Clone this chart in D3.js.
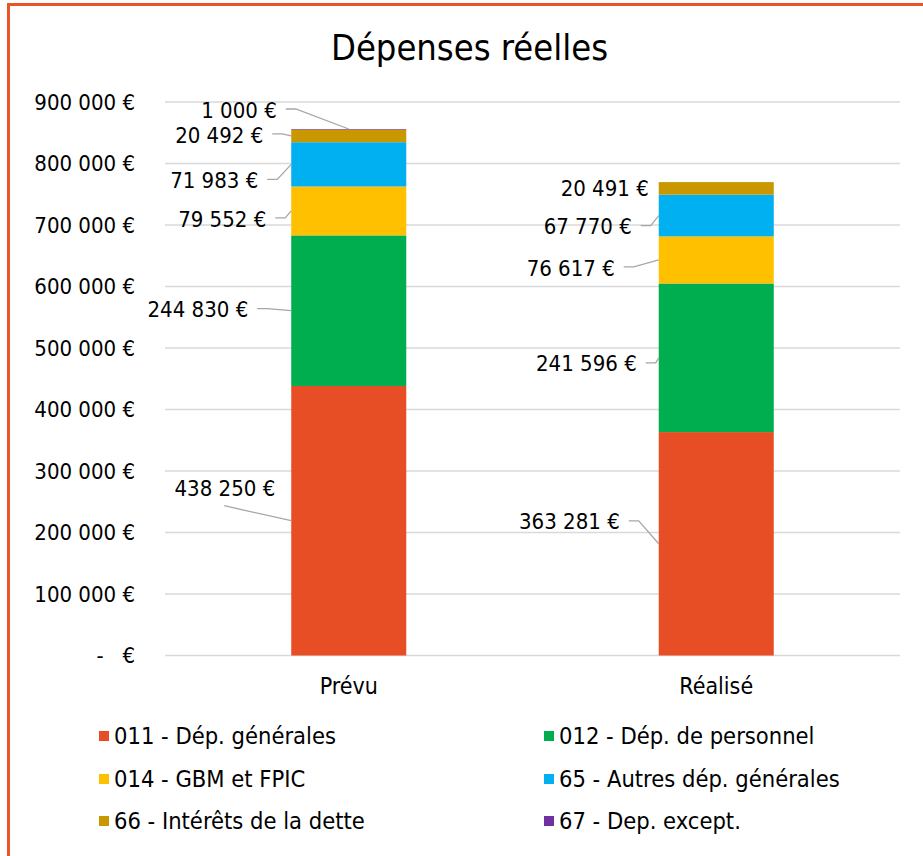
<!DOCTYPE html>
<html>
<head>
<meta charset="utf-8">
<script src="https://cdn.jsdelivr.net/npm/d3@7"></script>
<style>
  body { margin: 0; background: #fff; }
  svg { display: block; font-family: "DejaVu Sans Condensed", "DejaVu Sans", sans-serif; font-stretch: condensed; }
  .grid line { stroke: #d9d9d9; stroke-width: 1.5; }
  .leader { fill: none; stroke: #a6a6a6; stroke-width: 1.3; }
</style>
</head>
<body>
<svg width="923" height="856"></svg>
<script>
const categories = ["Prévu", "Réalisé"];
const seriesNames = ["011 - Dép. générales", "012 - Dép. de personnel", "014 - GBM et FPIC",
  "65 - Autres dép. générales", "66 - Intérêts de la dette", "67 - Dep. except."];
const seriesColors = ["#e84e25", "#00ad4f", "#ffc000", "#00b0f0", "#c99700", "#7030a0"];
const prevu = [438250, 244830, 79552, 71983, 20492, 1000];
const realise = [363281, 241596, 76617, 67770, 20491, 0];
const yTicks = [0, 100000, 200000, 300000, 400000, 500000, 600000, 700000, 800000, 900000];

// label placement (Excel callouts were moved by hand): text end offset from anchor, leader mode
const labelLayout = [
  [[-16, -32, "below"], [-43, -1], [-25, 8], [-33, 16], [-28, -1], [-72, -19, "top"]],
  [[-39, -22], [-22, 6], [-44, 8], [-27, 11], [-10, 0], null]
];

function drawChart() {
  let svg = d3.select("svg"),
    width = +svg.attr("width"),
    height = +svg.attr("height");

  svg.append("rect").attr("width", width).attr("height", height).attr("fill", "#fff");
  svg.append("rect")
    .attr("x", 8.5).attr("y", 4.5)
    .attr("width", 1000).attr("height", 1000)
    .attr("fill", "none").attr("stroke", "#e9552b").attr("stroke-width", 3);

  let plot = { left: 165, right: 900, top: 102, bottom: 655.5 };

  let x = d3.scaleBand().domain(categories)
    .range([plot.left, plot.right])
    .paddingInner(0.687).paddingOuter(0.3435);
  let y = d3.scaleLinear().domain([0, 900000]).range([plot.bottom, plot.top]);

  let fr = d3.formatLocale({ decimal: ",", thousands: " ", grouping: [3], currency: ["", " €"] });
  let fmt = v => v === 0 ? "-   €" : fr.format(",")(v) + " €";

  svg.append("text")
    .attr("x", 469.5).attr("y", 60)
    .attr("text-anchor", "middle")
    .style("font-size", "36px")
    .attr("fill", "#000")
    .text("Dépenses réelles");

  // gridlines
  svg.append("g").attr("class", "grid")
    .selectAll("line").data(yTicks).enter().append("line")
    .attr("x1", plot.left).attr("x2", plot.right)
    .attr("y1", d => y(d)).attr("y2", d => y(d));

  // y axis labels
  svg.append("g").selectAll("text").data(yTicks).enter().append("text")
    .attr("x", 135).attr("y", d => y(d))
    .attr("dy", "0.35em")
    .attr("text-anchor", "end")
    .style("font-size", "22px")
    .style("white-space", "pre")
    .attr("fill", "#000")
    .text(fmt);

  // stacked data
  let rows = categories.map((c, i) => {
    let obj = { cat: c };
    let vals = i === 0 ? prevu : realise;
    seriesNames.forEach((s, j) => obj[s] = vals[j]);
    return obj;
  });
  let stacked = d3.stack().keys(seriesNames)(rows);

  let layer = svg.append("g").selectAll("g").data(stacked).enter().append("g")
    .attr("fill", (d, i) => seriesColors[i]);
  layer.selectAll("rect").data(d => d).enter().append("rect")
    .attr("x", d => x(d.data.cat))
    .attr("width", x.bandwidth())
    .attr("y", d => y(d[1]))
    .attr("height", d => y(d[0]) - y(d[1]));

  // data labels with leader lines
  let lab = svg.append("g");
  stacked.forEach((s, j) => {
    s.forEach((d, i) => {
      let lay = labelLayout[i][j];
      let v = d[1] - d[0];
      if (!lay || v === 0) return;
      let ax, ay;
      if (lay[2] === "top") {
        ax = x(d.data.cat) + x.bandwidth() / 2;
        ay = y(d[1]);
      } else {
        ax = x(d.data.cat);
        ay = y((d[0] + d[1]) / 2);
      }
      let tx = ax + lay[0], ty = ay + lay[1];
      lab.append("text")
        .attr("x", tx).attr("y", ty)
        .attr("dy", "0.35em")
        .attr("text-anchor", "end")
        .style("font-size", "22px")
        .attr("fill", "#000")
        .text(fmt(v));
      let pts;
      if (lay[2] === "below") {
        pts = [[tx - 51, ty + 17], [ax, ay]];
      } else if (tx < ax - 12) {
        pts = [[tx + 9, ty - 1], [tx + 19, ty - 1], [ax, ay]];
        if (pts[1][0] > ax) pts.splice(1, 1);
      } else {
        pts = null;
      }
      if (pts) {
        lab.append("path").attr("class", "leader").attr("d", d3.line()(pts));
      }
    });
  });

  // x axis labels
  svg.append("g").selectAll("text").data(categories).enter().append("text")
    .attr("x", d => x(d) + x.bandwidth() / 2)
    .attr("y", 686)
    .attr("dy", "0.35em")
    .attr("text-anchor", "middle")
    .style("font-size", "23px")
    .attr("fill", "#000")
    .text(d => d);

  // legend
  let legX = [99, 544], legY = [736, 779, 821];
  let leg = svg.append("g").selectAll("g").data(seriesNames).enter().append("g")
    .attr("transform", (d, i) => "translate(" + legX[i % 2] + "," + legY[Math.floor(i / 2)] + ")");
  leg.append("rect")
    .attr("x", 0).attr("y", -5).attr("width", 10).attr("height", 10)
    .attr("fill", (d, i) => seriesColors[i]);
  leg.append("text")
    .attr("x", 15).attr("dy", "0.35em")
    .style("font-size", "23.5px")
    .attr("fill", "#000")
    .text(d => d);
}
drawChart();
</script>
</body>
</html>
